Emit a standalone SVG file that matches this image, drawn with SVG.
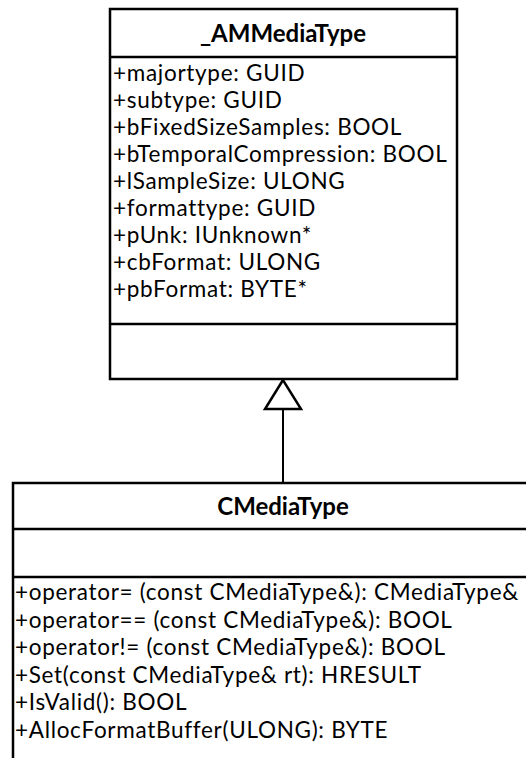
<svg xmlns="http://www.w3.org/2000/svg" width="526" height="758" viewBox="0 0 526 758">
  <style>
    .box { fill: #ffffff; stroke: #000000; stroke-width: 2.5; }
    .sep { stroke: #000000; stroke-width: 2.5; }
    .title { font-family: Lato, "Liberation Sans", sans-serif; font-size: 24px; font-weight: bold; fill: #000000; text-anchor: middle; }
    .member { font-family: Lato, "Liberation Sans", sans-serif; font-size: 22.5px; letter-spacing: 0.7px; fill: #000000; }
    .edge { stroke: #000000; stroke-width: 2; fill: none; }
    .head { stroke: #000000; stroke-width: 2.5; fill: #ffffff; }
  </style>
  <rect width="526" height="758" fill="#ffffff"/>

  <!-- base class -->
  <g id="AMMediaType">
    <rect class="box" x="110" y="9" width="347" height="370"/>
    <line class="sep" x1="110" y1="57" x2="457" y2="57"/>
    <line class="sep" x1="110" y1="324" x2="457" y2="324"/>
    <text class="title" x="283" y="42">_AMMediaType</text>
    <text class="member" x="113" y="81">+majortype: GUID</text>
    <text class="member" x="113" y="108">+subtype: GUID</text>
    <text class="member" x="113" y="135">+bFixedSizeSamples: BOOL</text>
    <text class="member" x="113" y="162">+bTemporalCompression: BOOL</text>
    <text class="member" x="113" y="189">+lSampleSize: ULONG</text>
    <text class="member" x="113" y="216">+formattype: GUID</text>
    <text class="member" x="113" y="243">+pUnk: IUnknown*</text>
    <text class="member" x="113" y="270">+cbFormat: ULONG</text>
    <text class="member" x="113" y="297">+pbFormat: BYTE*</text>
  </g>

  <!-- derived class -->
  <g id="CMediaType">
    <rect class="box" x="13" y="483" width="530" height="300"/>
    <line class="sep" x1="13" y1="529" x2="543" y2="529"/>
    <line class="sep" x1="13" y1="577" x2="543" y2="577"/>
    <text class="title" x="283" y="515">CMediaType</text>
    <text class="member" x="15" y="600">+operator= (const CMediaType&amp;): CMediaType&amp;</text>
    <text class="member" x="15" y="628">+operator== (const CMediaType&amp;): BOOL</text>
    <text class="member" x="15" y="655">+operator!= (const CMediaType&amp;): BOOL</text>
    <text class="member" x="15" y="683">+Set(const CMediaType&amp; rt): HRESULT</text>
    <text class="member" x="15" y="710">+IsValid(): BOOL</text>
    <text class="member" x="15" y="738">+AllocFormatBuffer(ULONG): BYTE</text>
  </g>

  <!-- generalization -->
  <g id="connectors">
    <line class="edge" x1="283" y1="409" x2="283" y2="483"/>
    <polygon class="head" points="283,380 265,409 301,409"/>
  </g>
</svg>
